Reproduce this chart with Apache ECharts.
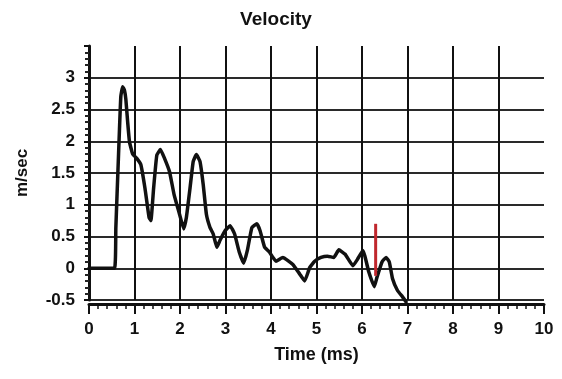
<!DOCTYPE html>
<html>
<head>
<meta charset="utf-8">
<script src="https://cdn.jsdelivr.net/npm/echarts@6/dist/echarts.min.js"></script>
<style>html,body{margin:0;padding:0;background:#fff;}#c{width:562px;height:379px;}</style>
</head>
<body>
<div id="c"></div>
<script>
var timeMs = [0, 0.56, 0.59, 0.63, 0.67, 0.7, 0.74, 0.78, 0.81, 0.85, 0.89, 0.96, 1.05, 1.14, 1.23, 1.32, 1.36, 1.42, 1.49, 1.57, 1.66, 1.77, 1.87, 1.99, 2.08, 2.14, 2.22, 2.29, 2.36, 2.44, 2.51, 2.58, 2.66, 2.73, 2.81, 2.88, 2.99, 3.1, 3.2, 3.3, 3.4, 3.48, 3.58, 3.69, 3.76, 3.86, 3.96, 4.11, 4.26, 4.48, 4.63, 4.74, 4.85, 4.96, 5.1, 5.24, 5.38, 5.49, 5.63, 5.8, 5.9, 6.02, 6.15, 6.27, 6.33, 6.44, 6.53, 6.6, 6.67, 6.78, 6.89, 6.97];
var velocity = [0, 0, 0.64, 1.42, 2.19, 2.71, 2.86, 2.8, 2.66, 2.3, 1.99, 1.8, 1.73, 1.63, 1.26, 0.8, 0.75, 1.26, 1.78, 1.87, 1.73, 1.52, 1.16, 0.85, 0.62, 0.8, 1.26, 1.68, 1.79, 1.68, 1.32, 0.85, 0.64, 0.54, 0.33, 0.44, 0.59, 0.67, 0.54, 0.26, 0.08, 0.28, 0.64, 0.7, 0.59, 0.33, 0.26, 0.11, 0.17, 0.06, -0.09, -0.2, 0.01, 0.11, 0.17, 0.19, 0.17, 0.29, 0.22, 0.04, 0.14, 0.28, -0.06, -0.29, -0.14, 0.1, 0.17, 0.1, -0.16, -0.35, -0.45, -0.53];
var markerTime = [6.3, 6.3];
var markerVel = [0.7, -0.12];
var xTicks = [0, 1, 2, 3, 4, 5, 6, 7, 8, 9, 10];
var yTicks = [-0.5, 0, 0.5, 1, 1.5, 2, 2.5, 3, 3.5];

var curve = timeMs.map(function (t, i) { return [t, velocity[i]]; });
var marker = markerTime.map(function (t, i) { return [t, markerVel[i]]; });

var font = 'Liberation Sans, Arial, sans-serif';
var hColors = yTicks.map(function (v, i) { return i === yTicks.length - 1 ? 'rgba(0,0,0,0)' : '#2a2a2a'; });
var vColors = xTicks.map(function (v, i) { return (i === 0 || i === xTicks.length - 1) ? 'rgba(0,0,0,0)' : '#111'; });

var chart = echarts.init(document.getElementById('c'), null, {renderer: 'canvas'});
chart.setOption({
  animation: false,
  backgroundColor: '#fff',
  title: {
    text: 'Velocity',
    left: 271, top: 5, textAlign: 'center',
    textStyle: {fontFamily: font, fontSize: 19, fontWeight: 'bold', color: '#111'}
  },
  grid: {left: 89, right: 18, top: 46, bottom: 79, containLabel: false},
  xAxis: {
    type: 'value', min: xTicks[0], max: xTicks[xTicks.length - 1], interval: 1,
    offset: 4,
    name: 'Time (ms)', nameLocation: 'middle', nameGap: 42,
    nameTextStyle: {fontFamily: font, fontSize: 18, fontWeight: 'bold', color: '#111'},
    axisLine: {show: true, onZero: false, lineStyle: {color: '#111', width: 3}},
    axisTick: {show: true, length: 10, lineStyle: {color: '#111', width: 2}},
    minorTick: {show: true, splitNumber: 5, length: 5, lineStyle: {color: '#111', width: 1.5}},
    axisLabel: {margin: 17, fontFamily: font, fontSize: 17, fontWeight: 'bold', color: '#111'},
    splitLine: {show: true, lineStyle: {color: vColors, width: 2}}
  },
  yAxis: {
    type: 'value', min: yTicks[0], max: yTicks[yTicks.length - 1], interval: 0.5,
    name: 'm/sec', nameLocation: 'middle', nameGap: 58,
    nameTextStyle: {fontFamily: font, fontSize: 17, fontWeight: 'bold', color: '#111'},
    axisLine: {show: true, lineStyle: {color: '#111', width: 3}},
    axisTick: {show: true, length: 5, lineStyle: {color: '#111', width: 2}},
    minorTick: {show: true, splitNumber: 5, length: 4, lineStyle: {color: '#222', width: 2}},
    axisLabel: {
      margin: 14, fontFamily: font, fontSize: 17, fontWeight: 'bold', color: '#111',
      showMaxLabel: false,
      formatter: function (v) { return String(Math.round(v * 10) / 10); }
    },
    splitLine: {show: true, lineStyle: {color: hColors, width: 2}}
  },
  series: [
    {
      type: 'line', data: curve, showSymbol: false, smooth: 0.12, clip: false,
      lineStyle: {color: '#111', width: 3.5, join: 'round', cap: 'round'}, z: 3
    },
    {
      type: 'line', data: marker, showSymbol: false, clip: false,
      lineStyle: {color: '#c0272d', width: 3}, z: 4
    }
  ]
});
</script>
</body>
</html>
